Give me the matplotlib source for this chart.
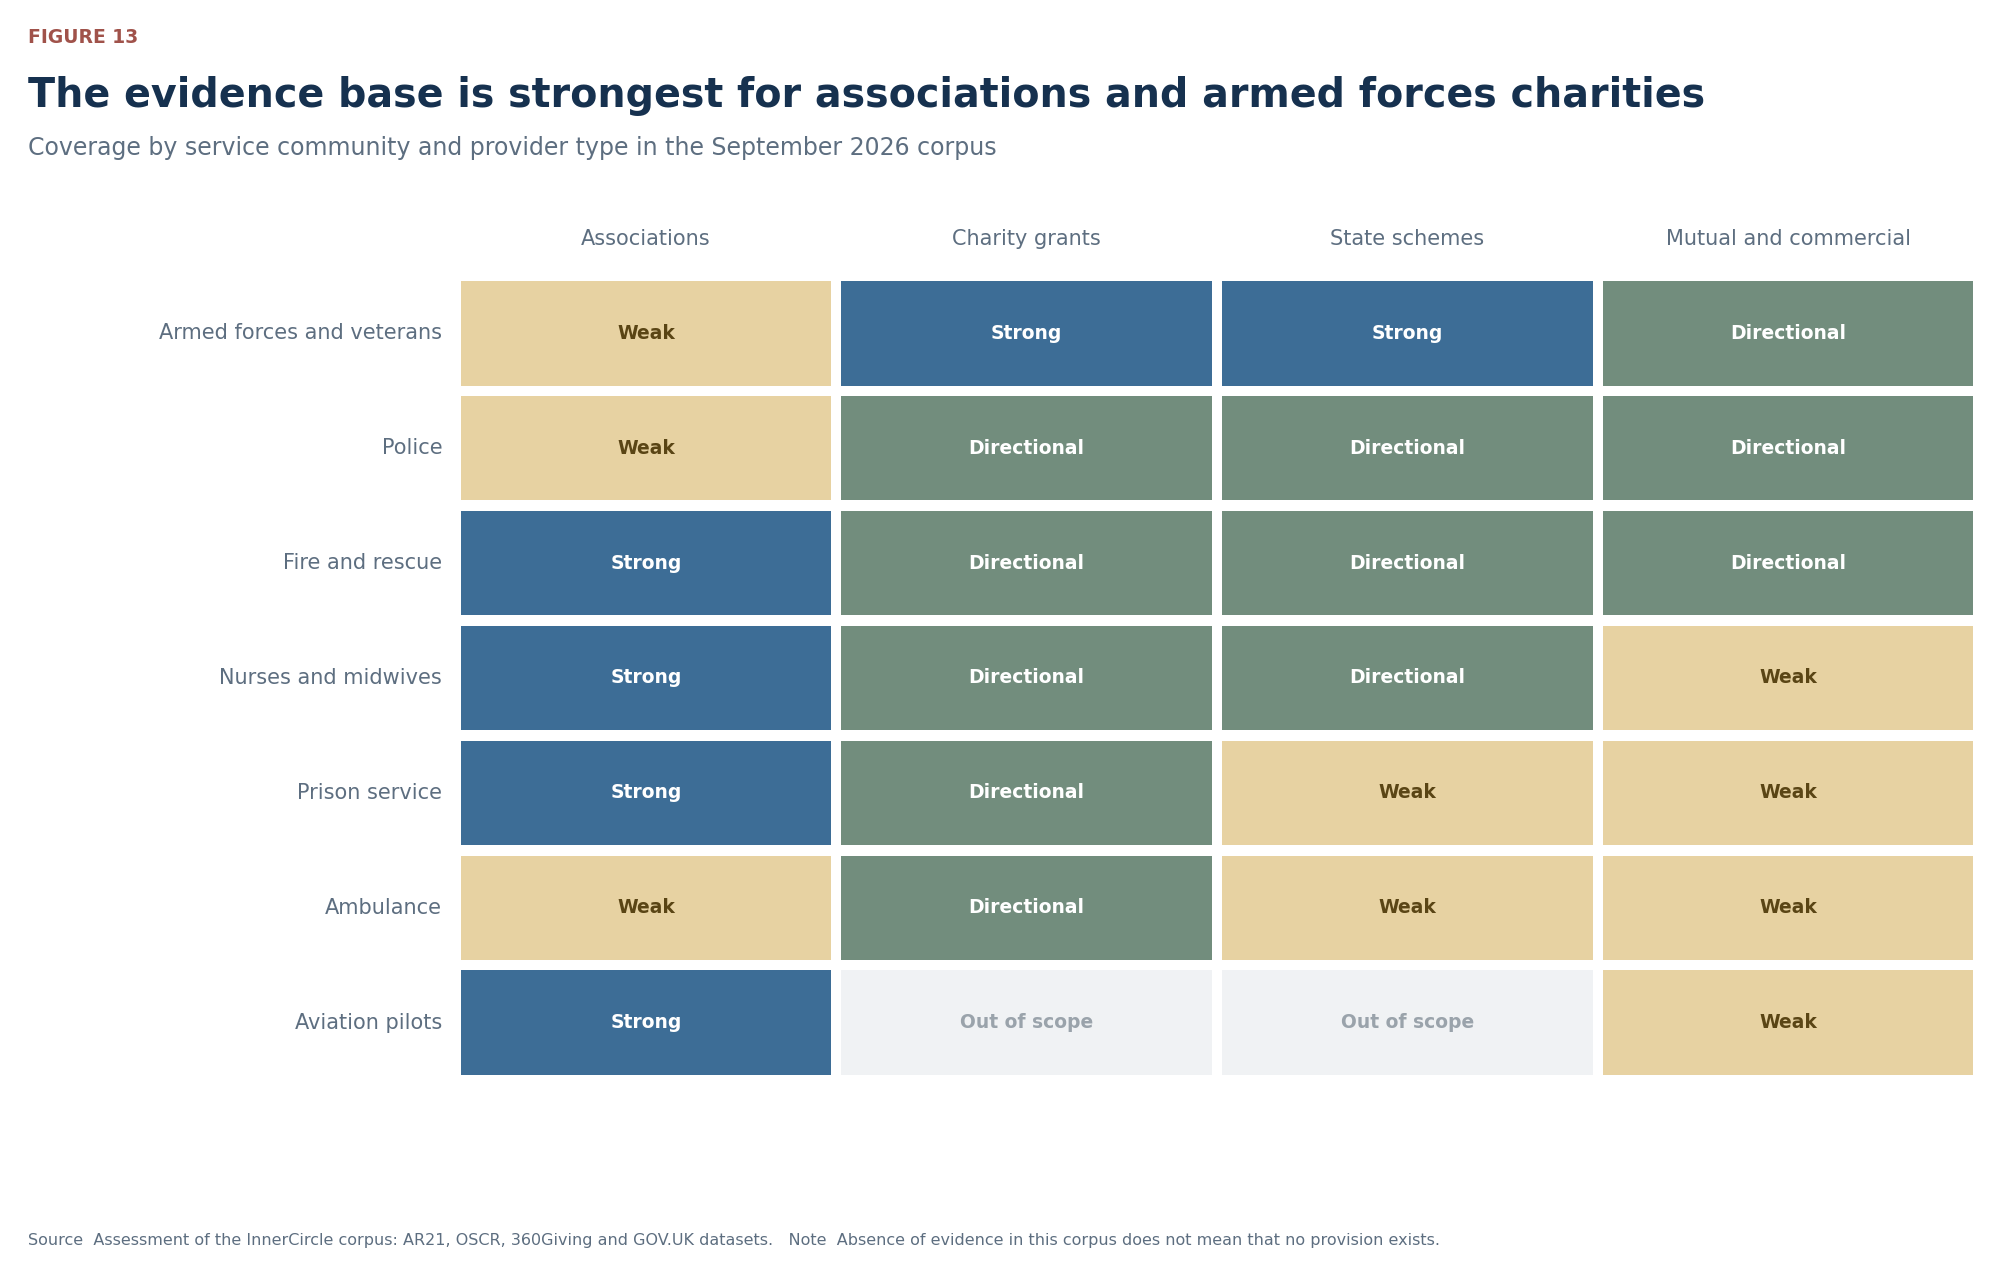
import matplotlib
matplotlib.use("Agg")
import matplotlib.pyplot as plt
from matplotlib.patches import Rectangle

rows = ["Armed forces and veterans", "Police", "Fire and rescue", "Nurses and midwives",
        "Prison service", "Ambulance", "Aviation pilots"]
cols = ["Associations", "Charity grants", "State schemes", "Mutual and commercial"]
ratings = [
    ["Weak", "Strong", "Strong", "Directional"],
    ["Weak", "Directional", "Directional", "Directional"],
    ["Strong", "Directional", "Directional", "Directional"],
    ["Strong", "Directional", "Directional", "Weak"],
    ["Strong", "Directional", "Weak", "Weak"],
    ["Weak", "Directional", "Weak", "Weak"],
    ["Strong", "Out of scope", "Out of scope", "Weak"],
]
fill = {"Strong": "#3d6d96", "Directional": "#728d7d", "Weak": "#e7d2a2", "Out of scope": "#f0f2f4"}
tcol = {"Strong": "white", "Directional": "white", "Weak": "#5a4515", "Out of scope": "#9aa3ab"}

fig = plt.figure(figsize=(20.12, 12.79), dpi=100)
ax = fig.add_axes([0.2264, 0.1555, 0.757, 0.6288])
ax.set_xlim(0, len(cols))
ax.set_ylim(len(rows), 0)
ax.axis("off")
gx, gy = 0.0135, 0.045
for i, r in enumerate(rows):
    for j, c in enumerate(cols):
        v = ratings[i][j]
        ax.add_patch(Rectangle((j + gx, i + gy), 1 - 2 * gx, 1 - 2 * gy, color=fill[v], lw=0))
        ax.text(j + 0.5, i + 0.5, v, ha="center", va="center", fontsize=13.5,
                fontweight="bold", color=tcol[v])
    ax.text(-0.035, i + 0.5, r, ha="right", va="center", fontsize=15, color="#5d6e80")
for j, c in enumerate(cols):
    ax.text(j + 0.5, -0.32, c, ha="center", va="center", fontsize=15, color="#5d6e80")

fig.text(0.014, 0.971, "FIGURE 13", fontsize=13.5, fontweight="bold", color="#a0524a", va="center")
fig.text(0.014, 0.925, "The evidence base is strongest for associations and armed forces charities",
         fontsize=28.5, fontweight="bold", color="#16314f", va="center")
fig.text(0.014, 0.884, "Coverage by service community and provider type in the September 2026 corpus",
         fontsize=17, color="#5d6e80", va="center")
fig.text(0.014, 0.030, "Source  Assessment of the InnerCircle corpus: AR21, OSCR, 360Giving and GOV.UK datasets.   "
         "Note  Absence of evidence in this corpus does not mean that no provision exists.",
         fontsize=11.5, color="#5d6e80", va="center")
fig.savefig("out.png", dpi=100, facecolor="white")
